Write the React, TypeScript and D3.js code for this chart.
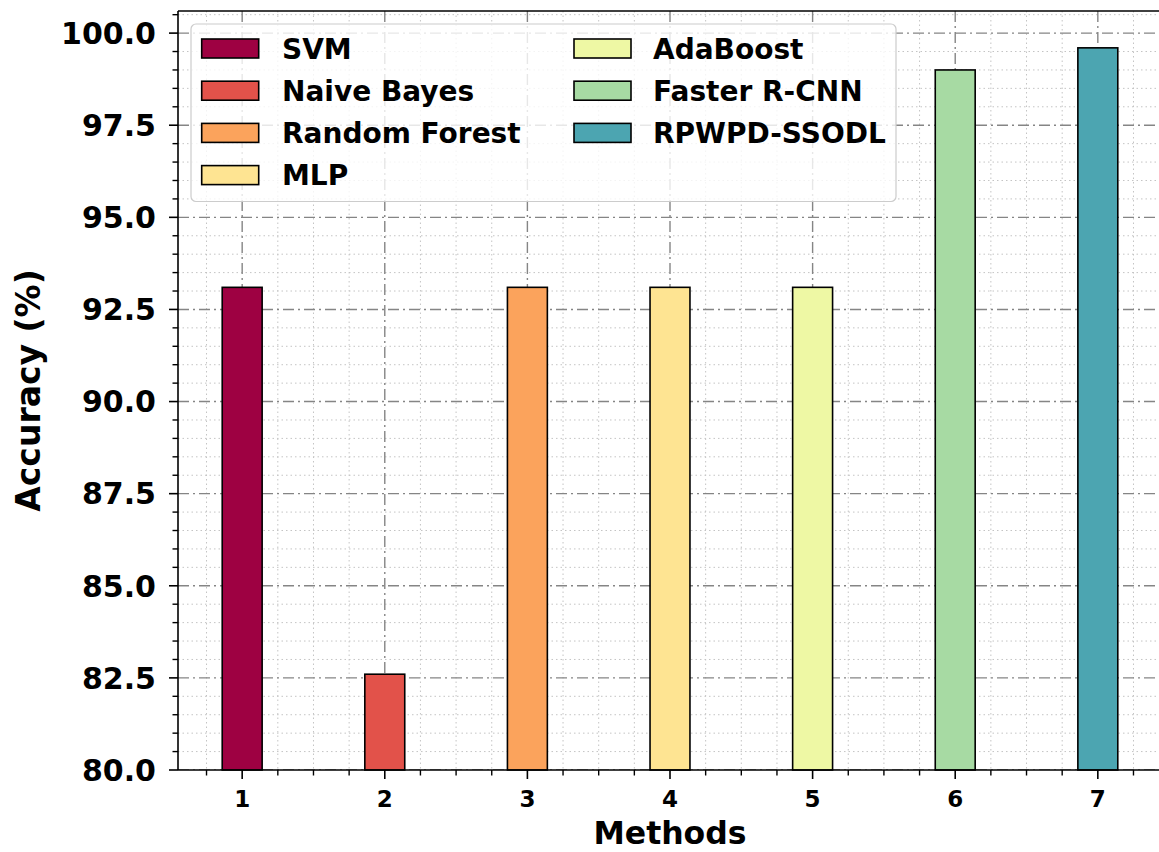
import React from "react";
import { scaleLinear, range } from "d3";

// methods, in plotting order (x = 1..7)
const methods = [
  "SVM",
  "Naive Bayes",
  "Random Forest",
  "MLP",
  "AdaBoost",
  "Faster R-CNN",
  "RPWPD-SSODL",
];
const accuracy = [93.1, 82.6, 93.1, 93.1, 93.1, 99.0, 99.6];
const xTicks = [1, 2, 3, 4, 5, 6, 7];
const yTicks = [80, 82.5, 85, 87.5, 90, 92.5, 95, 97.5, 100];

// sampled from the Spectral colormap
const colors = [
  "#9e0142",
  "#e2524a",
  "#fba35c",
  "#fee492",
  "#eef8a4",
  "#a7daa3",
  "#4ca5b1",
];

const W = 1159;
const H = 852;
const left = 178;
const right = 1162;
const top = 11;
const bottom = 770;
const font = "'DejaVu Sans', sans-serif";

export default function App() {
  const x = scaleLinear().domain([0.55, 7.45]).range([left, right]);
  const y = scaleLinear().domain([80, 100.6]).range([bottom, top]);
  const barW = x(0.28) - x(0);

  // minor grid: every 0.25 on x, 0.5 on y
  const xMinor = range(0.75, 7.45, 0.25).filter(
    (v) => Math.abs(v - Math.round(v)) > 1e-6
  );
  const yMinor = range(80.5, 100.6, 0.5).filter(
    (v) => Math.abs(v / 2.5 - Math.round(v / 2.5)) > 1e-6
  );

  const rowH = 42.2;
  const legendRows = methods.map((m, i) => ({
    name: m,
    color: colors[i],
    col: i < 4 ? 0 : 1,
    row: i < 4 ? i : i - 4,
  }));
  const colX = [201.7, 574];
  const textX = [282, 653];

  return (
    <svg
      width={W}
      height={H}
      style={{ position: "absolute", left: 0, top: 0, background: "#fff" }}
    >
      <defs>
        <clipPath id="plot">
          <rect x={left} y={top} width={right - left} height={bottom - top} />
        </clipPath>
      </defs>

      {/* grid */}
      <g clipPath="url(#plot)">
        {xMinor.map((v) => (
          <line
            key={"xm" + v}
            x1={x(v)}
            x2={x(v)}
            y1={top}
            y2={bottom}
            stroke="#c4c4c4"
            strokeWidth={1}
            strokeDasharray="1.5,3"
          />
        ))}
        {yMinor.map((v) => (
          <line
            key={"ym" + v}
            x1={left}
            x2={right}
            y1={y(v)}
            y2={y(v)}
            stroke="#c4c4c4"
            strokeWidth={1}
            strokeDasharray="1.5,3"
          />
        ))}
        {xTicks.map((v) => (
          <line
            key={"xM" + v}
            x1={x(v)}
            x2={x(v)}
            y1={top}
            y2={bottom}
            stroke="#858585"
            strokeWidth={1.4}
            strokeDasharray="11,4,2,4"
          />
        ))}
        {yTicks.map((v) => (
          <line
            key={"yM" + v}
            x1={left}
            x2={right}
            y1={y(v)}
            y2={y(v)}
            stroke="#858585"
            strokeWidth={1.4}
            strokeDasharray="11,4,2,4"
          />
        ))}
      </g>

      {/* bars */}
      {accuracy.map((v, i) => (
        <rect
          key={methods[i]}
          x={x(xTicks[i]) - barW / 2}
          y={y(v)}
          width={barW}
          height={y(80) - y(v)}
          fill={colors[i]}
          stroke="#000"
          strokeWidth={1.6}
        />
      ))}

      {/* legend */}
      <rect
        x={191}
        y={24}
        width={705}
        height={177.5}
        rx={5}
        fill="#fff"
        fillOpacity={0.8}
        stroke="#cccccc"
        strokeWidth={1.2}
      />
      {legendRows.map((d) => {
        const cy = 48.5 + d.row * rowH;
        return (
          <g key={d.name}>
            <rect
              x={colX[d.col]}
              y={cy - 9.5}
              width={57}
              height={19}
              fill={d.color}
              stroke="#000"
              strokeWidth={1.6}
            />
            <text
              x={textX[d.col]}
              y={cy}
              dy="0.36em"
              fontFamily={font}
              fontWeight="bold"
              fontSize={28}
              fill="#000"
            >
              {d.name}
            </text>
          </g>
        );
      })}

      {/* spines */}
      <line x1={left} x2={left} y1={top} y2={bottom} stroke="#000" strokeWidth={1.6} />
      <line x1={left} x2={right} y1={bottom} y2={bottom} stroke="#000" strokeWidth={1.6} />
      <line x1={left} x2={right} y1={top} y2={top} stroke="#000" strokeWidth={1.6} />
      <line x1={right} x2={right} y1={top} y2={bottom} stroke="#000" strokeWidth={1.6} />

      {/* y ticks */}
      {yMinor.map((v) => (
        <line key={"ytm" + v} x1={left - 5.5} x2={left} y1={y(v)} y2={y(v)} stroke="#000" strokeWidth={1.4} />
      ))}
      {yTicks.map((v) => (
        <g key={"yt" + v}>
          <line x1={left - 9} x2={left} y1={y(v)} y2={y(v)} stroke="#000" strokeWidth={1.6} />
          <text
            x={156}
            y={y(v)}
            dy="0.36em"
            textAnchor="end"
            fontFamily={font}
            fontWeight="bold"
            fontSize={30}
          >
            {v.toFixed(1)}
          </text>
        </g>
      ))}

      {/* x ticks */}
      {xMinor.map((v) => (
        <line key={"xtm" + v} x1={x(v)} x2={x(v)} y1={bottom} y2={bottom + 5.5} stroke="#000" strokeWidth={1.4} />
      ))}
      {xTicks.map((v) => (
        <g key={"xt" + v}>
          <line x1={x(v)} x2={x(v)} y1={bottom} y2={bottom + 9} stroke="#000" strokeWidth={1.6} />
          <text
            x={x(v)}
            y={806.5}
            textAnchor="middle"
            fontFamily={font}
            fontWeight="bold"
            fontSize={23}
          >
            {v}
          </text>
        </g>
      ))}

      {/* axis titles */}
      <text
        x={(left + right) / 2}
        y={844}
        textAnchor="middle"
        fontFamily={font}
        fontWeight="bold"
        fontSize={31.5}
      >
        Methods
      </text>
      <text
        transform={`translate(40,${(top + bottom) / 2}) rotate(-90)`}
        textAnchor="middle"
        fontFamily={font}
        fontWeight="bold"
        fontSize={33}
      >
        Accuracy (%)
      </text>
    </svg>
  );
}
